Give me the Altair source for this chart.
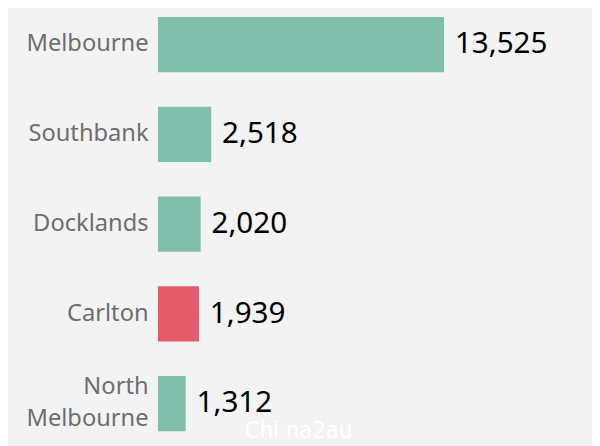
import altair as alt
import pandas as pd

suburbs = ["Melbourne", "Southbank", "Docklands", "Carlton", "North Melbourne"]
counts = [13525, 2518, 2020, 1939, 1312]
highlight = ["no", "no", "no", "yes", "no"]

df = pd.DataFrame({"suburb": suburbs, "count": counts, "hl": highlight})

y = alt.Y(
    "suburb:N",
    sort=suburbs,
    scale=alt.Scale(paddingInner=0.3846, paddingOuter=0.1099, align=0.3),
    axis=alt.Axis(
        title=None,
        domain=False,
        ticks=False,
        labelPadding=10,
        labelFontSize=24,
        labelColor="#6e6e6e",
        labelFont="Noto Sans",
        labelLimit=200,
        labelLineHeight=33,
        minExtent=152,
        maxExtent=152,
        labelBaseline={
            "condition": {"test": "datum.value == 'North Melbourne'", "value": "line-bottom"},
            "value": "middle",
        },
        labelExpr="datum.value == 'North Melbourne' ? ['North', 'Melbourne'] : datum.value",
    ),
)
x = alt.X(
    "count:Q",
    scale=alt.Scale(domain=[0, 20520], nice=False),
    axis=None,
)

bars = alt.Chart(df).mark_bar().encode(
    x=x,
    y=y,
    color=alt.Color(
        "hl:N",
        scale=alt.Scale(domain=["no", "yes"], range=["#80bfac", "#e45b6b"]),
        legend=None,
    ),
)

labels = alt.Chart(df).mark_text(
    align="left", baseline="middle", dx=11, fontSize=30, font="Noto Sans", color="#000000"
).encode(
    x=x,
    y=y,
    text=alt.Text("count:Q", format=","),
)

watermark = alt.Chart(pd.DataFrame({"t": ["Chi na2au"]})).mark_text(
    align="left", baseline="alphabetic", fontSize=24,
    font="Liberation Sans Narrow, DejaVu Sans Condensed, Roboto", color="#ffffff"
).encode(
    x=alt.value(88),
    y=alt.value(433),
    text="t:N",
)

chart = (
    alt.layer(bars, labels, watermark)
    .properties(width=440, height=440, padding=0, background="#f3f3f3")
    .configure_view(stroke=None)
)

chart.save("out.html", embed_options={"renderer": "svg", "actions": False})
